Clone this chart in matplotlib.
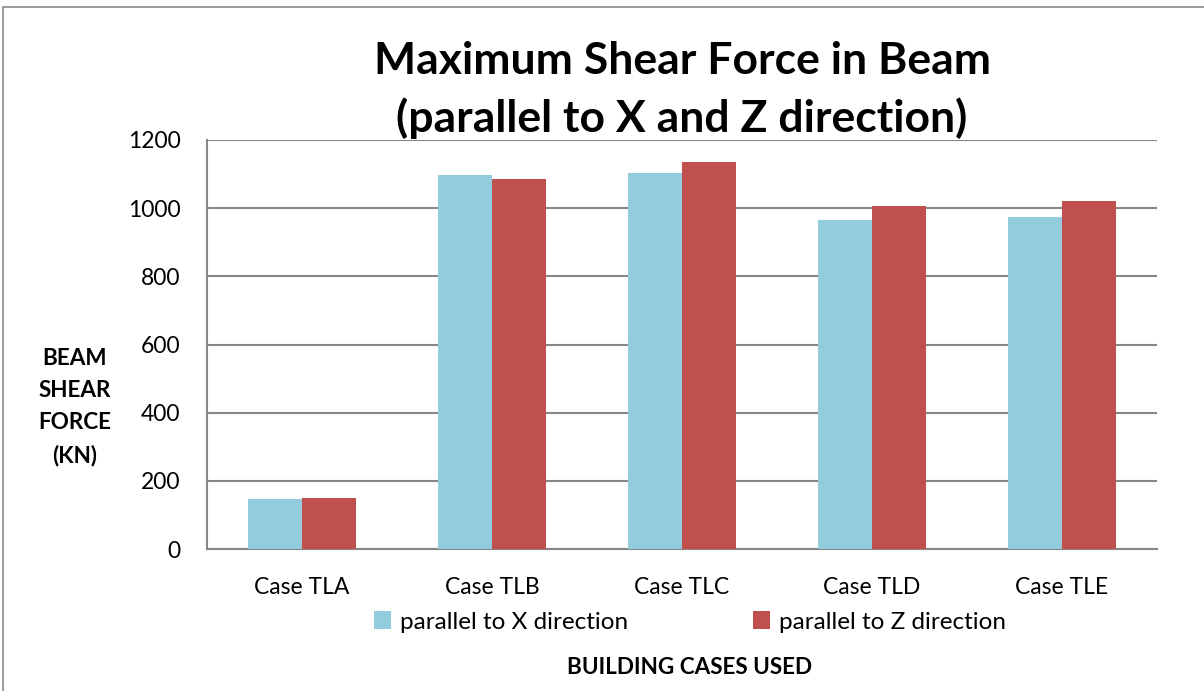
import numpy as np
import matplotlib.pyplot as plt
from matplotlib.patches import Rectangle

plt.rcParams['font.family'] = ['Lato', 'DejaVu Sans']

cases = ["Case TLA", "Case TLB", "Case TLC", "Case TLD", "Case TLE"]
x_dir = [146, 1097, 1102, 966, 973]
z_dir = [149, 1085, 1135, 1005, 1020]
yticks = [0, 200, 400, 600, 800, 1000, 1200]

fig = plt.figure(figsize=(12.04, 6.91), dpi=100)
ax = fig.add_axes([207 / 1204, 1 - 549 / 691, 950 / 1204, 409 / 691])

# outer chart border
fig.patches.append(Rectangle((3 / 1204, -0.05), 1.1, 1.05 - 7 / 691, transform=fig.transFigure,
                             fill=False, edgecolor="#878787", linewidth=1.2))

pos = np.arange(len(cases))
w = 0.284
ax.bar(pos - w / 2, x_dir, w, color="#93CDDD", label="parallel to X direction", zorder=3)
ax.bar(pos + w / 2, z_dir, w, color="#C0504D", label="parallel to Z direction", zorder=3)

ax.set_xlim(-0.5, len(cases) - 0.5)
ax.set_ylim(0, 1200)
ax.set_yticks(yticks)
ax.set_xticks(pos)
ax.set_xticklabels(cases, fontsize=16.5)
ax.tick_params(axis="y", labelsize=16.5, length=0, pad=19)
ax.tick_params(axis="x", length=0, pad=20)
ax.grid(axis="y", color="#868686", linewidth=1.5, zorder=0)
for s in ["top", "right"]:
    ax.spines[s].set_visible(False)
for s in ["left", "bottom"]:
    ax.spines[s].set_color("#868686")
    ax.spines[s].set_linewidth(1.5)

fig.text(682 / 1204, 1 - 90 / 691, "Maximum Shear Force in Beam\n(parallel to X and Z direction)",
         ha="center", va="center", fontsize=32, fontweight="bold", linespacing=1.5)

fig.text(75 / 1204, 1 - 407 / 691, "BEAM\nSHEAR\nFORCE\n(KN)", ha="center", va="center",
         fontsize=16.2, fontweight="bold", linespacing=1.65)
fig.text(690 / 1204, 1 - 668 / 691, "BUILDING CASES USED", ha="center", va="center",
         fontsize=16.2, fontweight="bold")

fig.legend(loc="center", bbox_to_anchor=(690 / 1204, 1 - 622 / 691), ncol=2, frameon=False,
           fontsize=17.5, handlelength=0.7, handleheight=0.7, columnspacing=5.1, handletextpad=0.4)

fig.savefig("out.png", dpi=100)
